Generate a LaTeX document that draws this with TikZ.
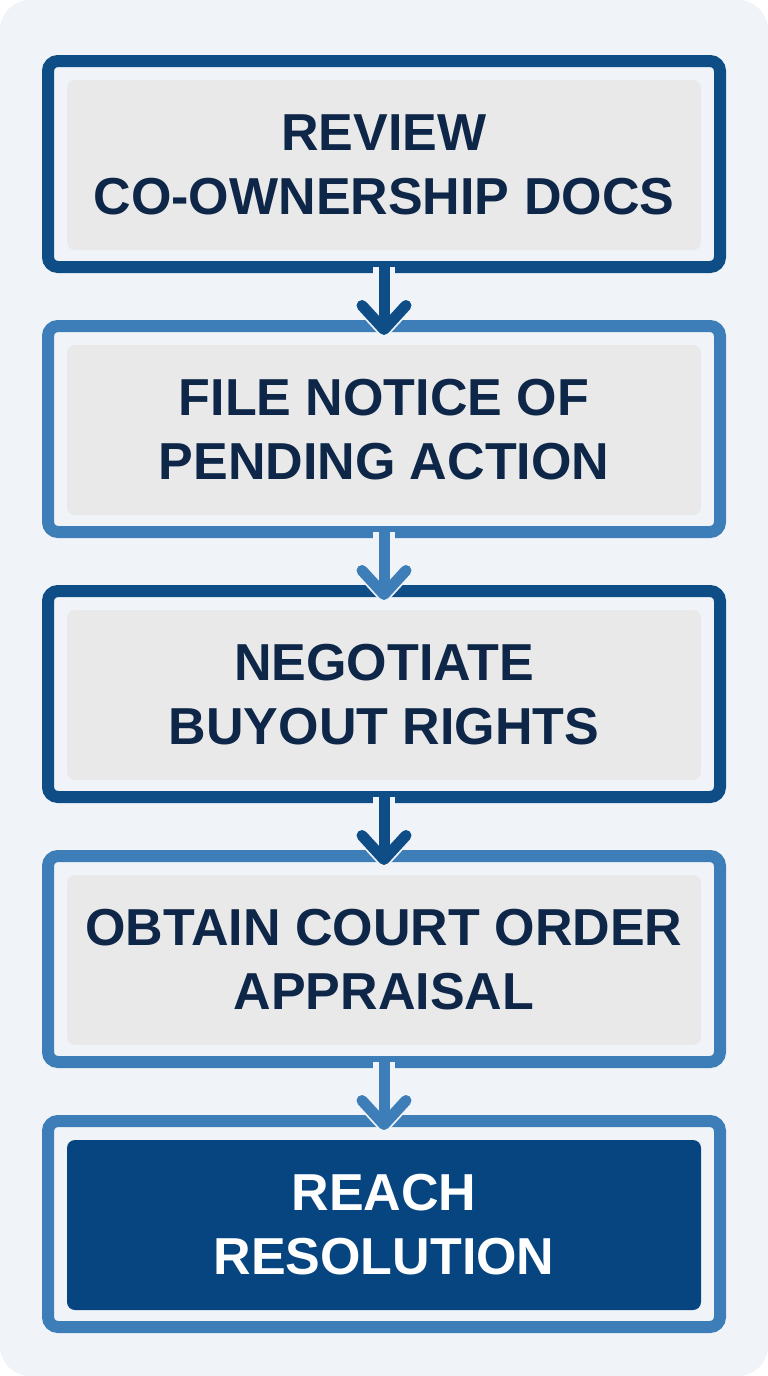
\documentclass[tikz,border=0pt]{standalone}
\usepackage{fontspec}
\setmainfont{Liberation Sans}
\usetikzlibrary{arrows.meta,positioning}
\definecolor{cardbg}{HTML}{F0F4F8}
\definecolor{panelgray}{HTML}{E9E9E9}
\definecolor{stepdark}{HTML}{0E4D86}
\definecolor{steplight}{HTML}{3D7DB8}
\definecolor{finalfill}{HTML}{06457F}
\definecolor{inktext}{HTML}{0E2748}

\begin{document}
\begin{tikzpicture}[x=1pt,y=-1pt,
  frame/.style={draw,line width=12pt,rounded corners=10pt,fill=cardbg,
    minimum width=672pt,minimum height=206pt,outer sep=0pt},
  panel/.style={rounded corners=8pt,minimum width=634pt,minimum height=170pt,
    font=\fontsize{52}{64}\selectfont\bfseries,align=center},
  flow/.style={line width=11pt,-{Straight Barb[length=24pt,width=44pt,round]},
    preaction={draw=cardbg,line width=22pt}}]
% Hintergrundkarte
\useasboundingbox (0,0) rectangle (768,1376);
\fill[white] (0,0) rectangle (768,1376);
\fill[cardbg,rounded corners=30pt] (0,0) rectangle (768,1376);
% Schritte (Rahmen + graue Tafel)
\foreach \i/\col/\pfill/\tcol/\txt in {
  1/stepdark/panelgray/inktext/{REVIEW\\CO-OWNERSHIP DOCS},
  2/steplight/panelgray/inktext/{FILE NOTICE OF\\PENDING ACTION},
  3/stepdark/panelgray/inktext/{NEGOTIATE\\BUYOUT RIGHTS},
  4/steplight/panelgray/inktext/{OBTAIN COURT ORDER\\APPRAISAL},
  5/steplight/finalfill/white/{REACH\\RESOLUTION}}{
  \node[frame,draw=\col] (step\i) at (384,{164+265*(\i-1)}) {};
  \node[panel,fill=\pfill,text=\tcol] (panel\i) at ([yshift=-1pt]step\i) {\txt};
}
% Pfeile zwischen den Schritten
\foreach \i/\j/\col in {1/2/stepdark,2/3/steplight,3/4/stepdark,4/5/steplight}
  \draw[flow,\col] (step\i.south) -- ([yshift=-9pt]step\j.north);
\end{tikzpicture}
\end{document}
